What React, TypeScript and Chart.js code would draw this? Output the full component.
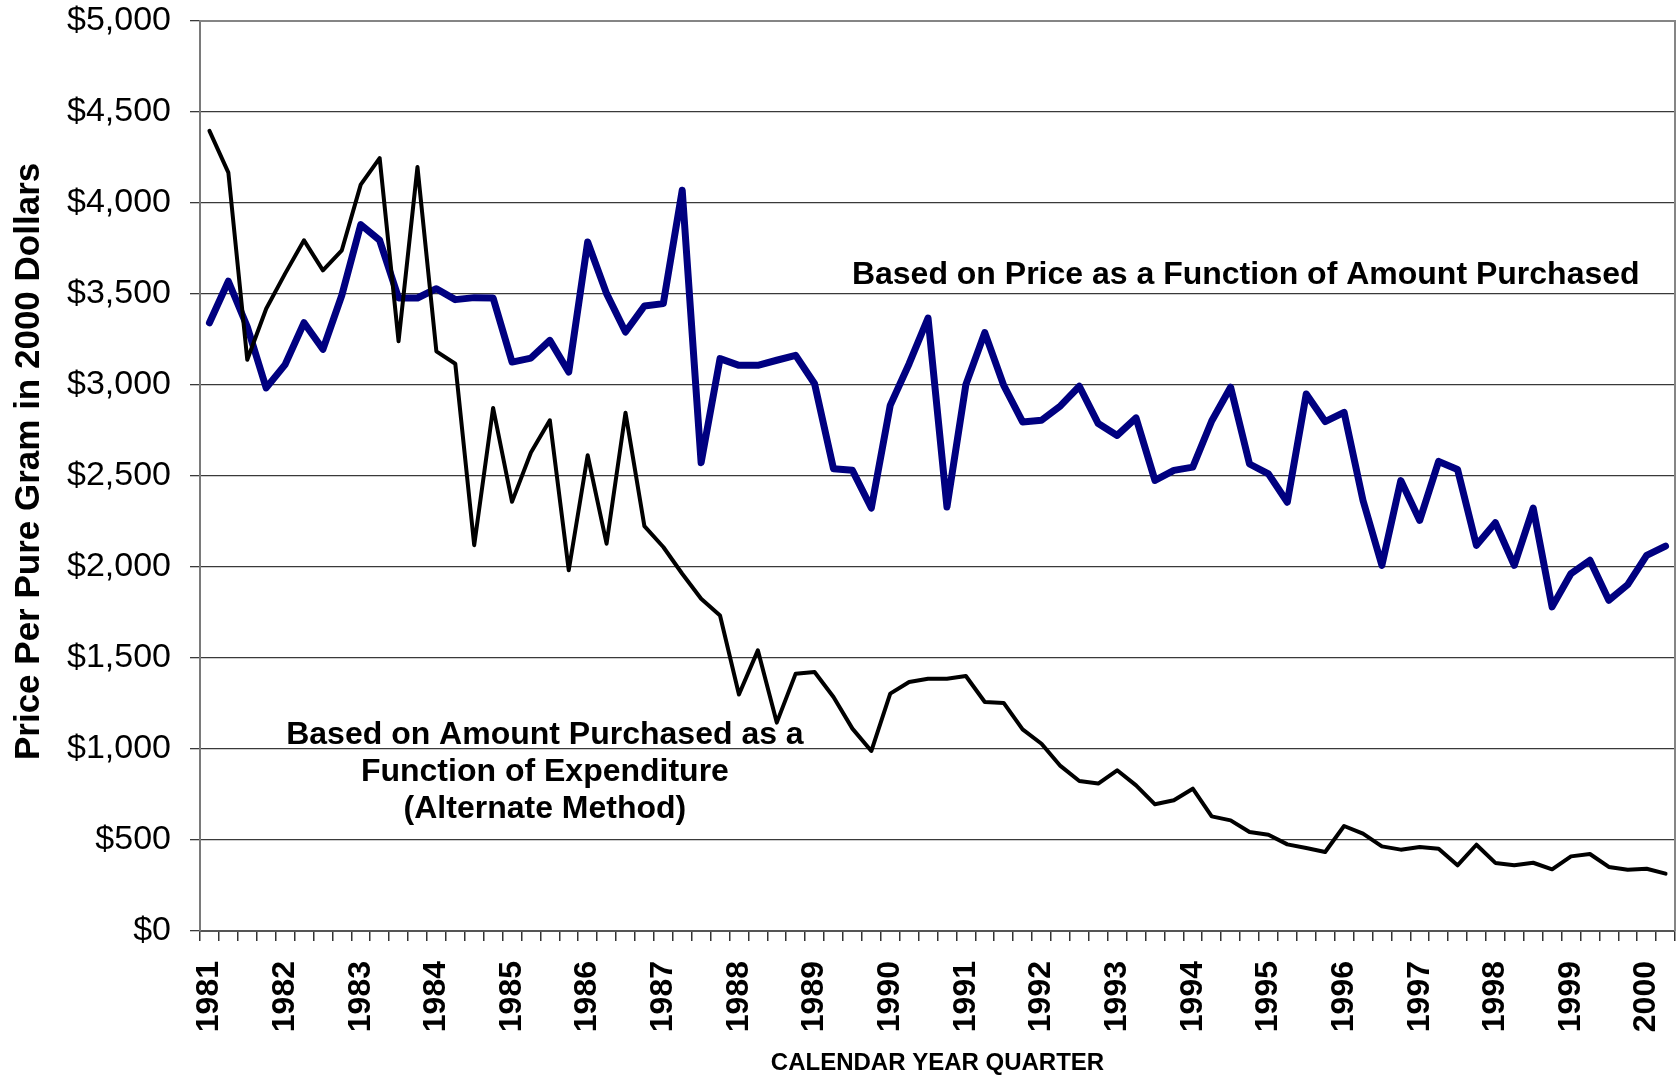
import React, { useEffect, useRef } from "react";
import { Chart, registerables } from "chart.js";

Chart.register(...registerables);

const FONT = '"Liberation Sans", Arial, Helvetica, sans-serif';

const years = [
  "1981", "1982", "1983", "1984", "1985", "1986", "1987", "1988", "1989", "1990",
  "1991", "1992", "1993", "1994", "1995", "1996", "1997", "1998", "1999", "2000",
];
const quarterNames = ["Q1", "Q2", "Q3", "Q4"];
const quarterCount = 78; // 1981 Q1 .. 2000 Q2

const quarters: string[] = years
  .flatMap((y) => quarterNames.map((q) => `${y} ${q}`))
  .slice(0, quarterCount);

// Based on Price as a Function of Amount Purchased (blue)
const priceFunctionSeries = [
  3342, 3570, 3320, 2984, 3112, 3342, 3196, 3493, 3881, 3795,
  3478, 3478, 3529, 3469, 3480, 3478, 3126, 3148, 3245, 3071,
  3786, 3502, 3291, 3434, 3447, 4070, 2573, 3145, 3108, 3108,
  3136, 3163, 3007, 2540, 2531, 2324, 2888, 3117, 3368, 2330,
  3002, 3288, 2998, 2797, 2806, 2885, 2993, 2788, 2723, 2819,
  2476, 2531, 2549, 2802, 2988, 2566, 2512, 2356, 2951, 2799,
  2850, 2366, 2009, 2475, 2256, 2580, 2536, 2119, 2243, 2009,
  2324, 1781, 1964, 2037, 1817, 1903, 2064, 2115,
];

// Based on Amount Purchased as a Function of Expenditure (black)
const alternateMethodSeries = [
  4396, 4167, 3139, 3419, 3612, 3795, 3630, 3740, 4101, 4247,
  3240, 4198, 3185, 3117, 2120, 2874, 2358, 2629, 2806, 1982,
  2614, 2128, 2848, 2225, 2110, 1963, 1826, 1734, 1299, 1542,
  1145, 1414, 1423, 1286, 1112, 989, 1304, 1368, 1386, 1386,
  1401, 1258, 1253, 1108, 1029, 907, 824, 810, 883, 800,
  696, 718, 782, 630, 608, 544, 529, 476, 456, 434,
  577, 535, 465, 447, 462, 452, 361, 474, 374, 361,
  375, 339, 410, 423, 352, 337, 342, 315,
];

const yTicks = { min: 0, max: 5000, step: 500 };

const annotationPrice = {
  lines: ["Based on Price as a Function of Amount Purchased"],
  index: 54.8,
  value: 3604,
};
const annotationAlternate = {
  lines: ["Based on Amount Purchased as a", "Function of Expenditure", "(Alternate Method)"],
  index: 17.74,
  value: 1077,
};

const framePlugin = {
  id: "frame",
  beforeDatasetsDraw(chart: any) {
    const { ctx, chartArea } = chart;
    const { left, top, right, bottom } = chartArea;
    ctx.save();
    ctx.strokeStyle = "#858585";
    ctx.lineWidth = 2;
    ctx.beginPath();
    ctx.moveTo(left, top);
    ctx.lineTo(right, top);
    ctx.lineTo(right, bottom);
    ctx.stroke();
    ctx.restore();
  },
};

const textPlugin = {
  id: "seriesText",
  afterDatasetsDraw(chart: any) {
    const { ctx } = chart;
    const xs = chart.scales.x;
    const ys = chart.scales.y;
    const drawBlock = (a: { lines: string[]; index: number; value: number }) => {
      const i0 = Math.floor(a.index);
      const frac = a.index - i0;
      const x = xs.getPixelForValue(i0) + frac * (xs.getPixelForValue(i0 + 1) - xs.getPixelForValue(i0));
      const y = ys.getPixelForValue(a.value);
      ctx.save();
      ctx.fillStyle = "#000";
      ctx.font = `bold 32px ${FONT}`;
      ctx.textAlign = "center";
      ctx.textBaseline = "middle";
      a.lines.forEach((line, k) => ctx.fillText(line, x, y + k * 37));
      ctx.restore();
    };
    drawBlock(annotationPrice);
    drawBlock(annotationAlternate);
  },
};

export default function App() {
  const canvasRef = useRef<HTMLCanvasElement | null>(null);

  useEffect(() => {
    if (!canvasRef.current) return;
    const chart = new Chart(canvasRef.current, {
      type: "line",
      data: {
        labels: quarters,
        datasets: [
          {
            label: "Based on Amount Purchased as a Function of Expenditure (Alternate Method)",
            data: alternateMethodSeries,
            borderColor: "#000000",
            backgroundColor: "#000000",
            borderWidth: 4,
            pointRadius: 0,
            tension: 0,
            borderJoinStyle: "round",
            borderCapStyle: "round",
          },
          {
            label: "Based on Price as a Function of Amount Purchased",
            data: priceFunctionSeries,
            borderColor: "#000080",
            backgroundColor: "#000080",
            borderWidth: 7,
            pointRadius: 0,
            tension: 0,
            borderJoinStyle: "round",
            borderCapStyle: "round",
          },
        ],
      },
      options: {
        animation: false,
        responsive: true,
        maintainAspectRatio: false,
        devicePixelRatio: 1,
        layout: { padding: { left: 0, right: 3, top: 21, bottom: 0 } },
        plugins: {
          legend: { display: false },
          tooltip: { enabled: false },
          title: { display: false },
        },
        scales: {
          x: {
            type: "category",
            offset: true,
            grid: {
              display: true,
              drawOnChartArea: false,
              drawTicks: true,
              tickLength: 10,
              offset: true,
              color: "#333333",
              lineWidth: 1.5,
            },
            border: { display: true, color: "#555555", width: 2 },
            ticks: {
              autoSkip: false,
              maxRotation: 90,
              minRotation: 90,
              padding: 20,
              color: "#000000",
              font: { family: FONT, size: 32, weight: "bold" },
              callback: (_v: any, index: number) => (index % 4 === 0 ? years[index / 4] : ""),
            },
            title: {
              display: true,
              text: "CALENDAR YEAR QUARTER",
              color: "#000000",
              font: { family: FONT, size: 24, weight: "bold" },
              padding: { top: 0, bottom: 0 },
            },
            afterFit: (scale: any) => {
              scale.height = 147;
              scale.paddingLeft = 0;
              scale.paddingRight = 0;
            },
          },
          y: {
            min: yTicks.min,
            max: yTicks.max,
            grid: {
              color: "#3a3a3a",
              lineWidth: 1.3,
              tickLength: 10,
            },
            border: { display: true, color: "#7a7a7a", width: 2 },
            ticks: {
              stepSize: yTicks.step,
              padding: 19,
              color: "#000000",
              font: { family: FONT, size: 34 },
              callback: (v: any) => "$" + Number(v).toLocaleString("en-US"),
            },
            title: {
              display: true,
              text: "   Price Per Pure Gram in 2000 Dollars",
              color: "#000000",
              font: { family: FONT, size: 35, weight: "bold" },
              padding: { top: 8, bottom: 0 },
            },
            afterFit: (scale: any) => {
              scale.width = 200;
              scale.paddingTop = 0;
              scale.paddingBottom = 0;
            },
          },
        },
      },
      plugins: [framePlugin, textPlugin],
    } as any);
    return () => chart.destroy();
  }, []);

  return (
    <div
      style={{
        position: "absolute",
        left: 0,
        top: 0,
        width: 1678,
        height: 1078,
        background: "#ffffff",
        overflow: "hidden",
      }}
    >
      <canvas ref={canvasRef} />
    </div>
  );
}
